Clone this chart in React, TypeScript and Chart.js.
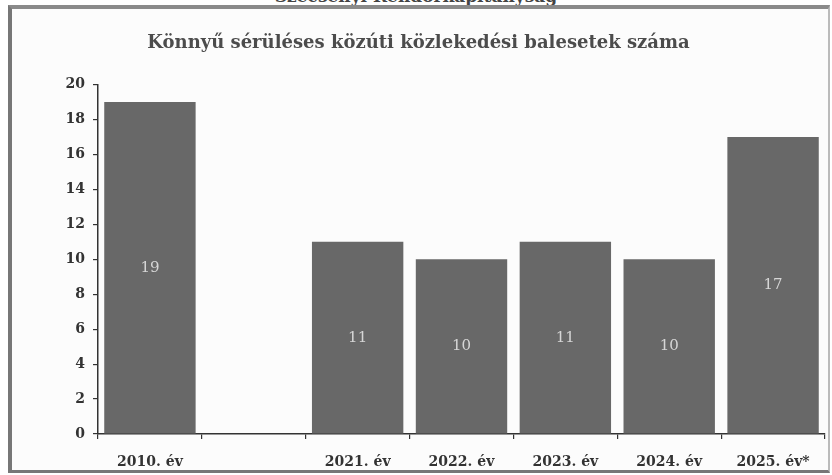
import React, { useEffect, useRef } from "react";
import { Chart, registerables } from "chart.js";

Chart.register(...registerables);

const categories: string[] = ["2010. év", "", "2021. év", "2022. év", "2023. év", "2024. év", "2025. év*"];
const values: (number | null)[] = [19, null, 11, 10, 11, 10, 17];
const yTicks: number[] = [0, 2, 4, 6, 8, 10, 12, 14, 16, 18, 20];
const chartTitle = "Könnyű sérüléses közúti közlekedési balesetek száma";
const pageHeading = "Szécsényi Rendőrkapitányság";

const FONT = "'DejaVu Serif', 'Liberation Serif', serif";

const valueLabels = {
  id: "valueLabels",
  afterDatasetsDraw(chart: any) {
    const ctx = chart.ctx;
    const meta = chart.getDatasetMeta(0);
    ctx.save();
    ctx.fillStyle = "#d6d6d6";
    ctx.font = `15px ${FONT}`;
    ctx.textAlign = "center";
    ctx.textBaseline = "middle";
    meta.data.forEach((el: any, i: number) => {
      const v = values[i];
      if (v === null || v === undefined) return;
      const p = el.getProps(["x", "y", "base"], true);
      ctx.fillText(String(v), p.x, (p.y + p.base) / 2);
    });
    ctx.restore();
  },
};

export default function App() {
  const ref = useRef<HTMLCanvasElement | null>(null);
  useEffect(() => {
    if (!ref.current) return;
    const chart = new Chart(ref.current, {
      type: "bar",
      data: {
        labels: categories,
        datasets: [
          {
            data: values,
            backgroundColor: "#686868",
            borderWidth: 0,
            categoryPercentage: 1,
            barPercentage: 0.88,
          },
        ],
      },
      options: {
        animation: false,
        responsive: true,
        maintainAspectRatio: false,
        layout: { padding: { left: 0, right: 1, top: 0, bottom: 0 } },
        plugins: {
          legend: { display: false },
          tooltip: { enabled: false },
          title: {
            display: true,
            text: chartTitle,
            color: "#4c4c4c",
            font: { family: FONT, size: 18, weight: "bold" },
            padding: { top: 24, bottom: 30 },
          },
        },
        scales: {
          x: {
            grid: { display: true, drawOnChartArea: false, offset: true, tickLength: 5, color: "#333", lineWidth: 1.2 },
            border: { display: true, color: "#333", width: 1.5 },
            ticks: {
              color: "#333",
              padding: 15,
              font: { family: FONT, size: 14, weight: "bold" },
              maxRotation: 0,
              autoSkip: false,
            },
            afterFit: (s: any) => {
              s.height = 35;
            },
          },
          y: {
            min: 0,
            max: 20,
            afterBuildTicks: (s: any) => {
              s.ticks = yTicks.map((v) => ({ value: v }));
            },
            grid: { display: true, drawOnChartArea: false, tickLength: 5, color: "#333", lineWidth: 1.2 },
            border: { display: true, color: "#333", width: 1.5 },
            ticks: {
              color: "#333",
              padding: 8,
              font: { family: FONT, size: 14, weight: "bold" },
            },
            afterFit: (s: any) => {
              s.width = 86;
            },
          },
        },
      },
      plugins: [valueLabels],
    });
    return () => chart.destroy();
  }, []);

  return (
    <div style={{ position: "fixed", left: 0, top: 0, width: 832, height: 475, background: "#ffffff", overflow: "hidden" }}>
      <div
        style={{
          position: "absolute",
          left: 0,
          width: 832,
          top: -14,
          textAlign: "center",
          font: `bold 17px ${FONT}`,
          color: "#444",
          whiteSpace: "nowrap",
        }}
      >
        {pageHeading}
      </div>
      <div
        style={{
          position: "absolute",
          left: 8,
          top: 5,
          width: 822,
          height: 468,
          boxSizing: "border-box",
          borderLeft: "4px solid #777",
          borderTop: "4px solid #8a8a8a",
          borderBottom: "3px solid #777",
          borderRight: "2px solid #bbb",
          background: "#fcfcfc",
        }}
      />
      <div style={{ position: "absolute", left: 12, top: 9, width: 814, height: 460 }}>
        <canvas ref={ref} />
      </div>
    </div>
  );
}
